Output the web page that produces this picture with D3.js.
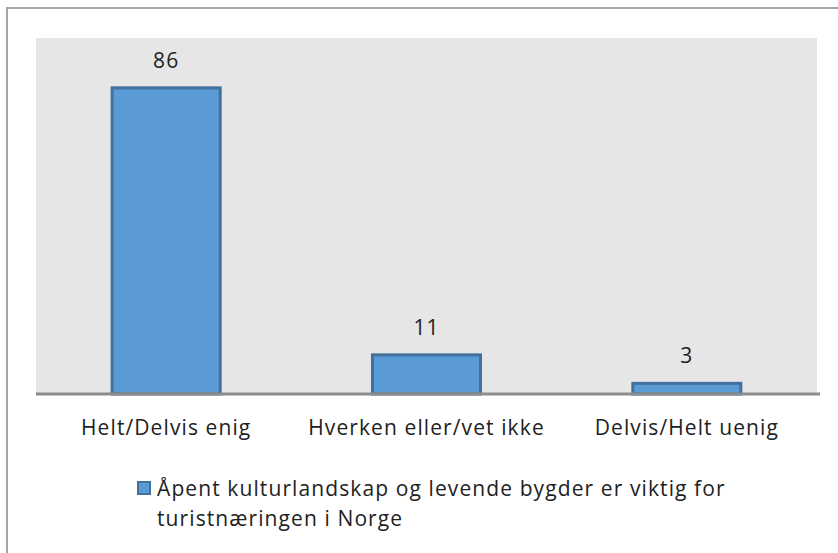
<!DOCTYPE html>
<html>
<head>
<meta charset="utf-8">
<script src="https://cdn.jsdelivr.net/npm/d3@7"></script>
<style>
	body { margin: 0; background: #ffffff; }
	text { font-family: "Open Sans", "DejaVu Sans", sans-serif; fill: #222222; letter-spacing: 1.1px; }
</style>
</head>
<body>
<div id="chart"></div>
<script>
// data
const CATEGORIES = ["Helt/Delvis enig", "Hverken eller/vet ikke", "Delvis/Helt uenig"];
const VALUES = [86, 11, 3];
const SERIES_NAME = ["Åpent kulturlandskap og levende bygder er viktig for", "turistnæringen i Norge"];

// frame
const FRAME_WIDTH = 838;
const FRAME_HEIGHT = 553;
const PLOT = {left: 36, right: 817, top: 38, bottom: 394};

const FRAME = d3.select("#chart")
				.append("svg")
					.attr("width", FRAME_WIDTH)
					.attr("height", FRAME_HEIGHT);

// outer chart border
FRAME.append("rect")
		.attr("x", 7)
		.attr("y", 8)
		.attr("width", FRAME_WIDTH)
		.attr("height", FRAME_HEIGHT)
		.attr("fill", "#ffffff")
		.attr("stroke", "#a6a6a6")
		.attr("stroke-width", 2);

// plot area background
FRAME.append("rect")
		.attr("x", PLOT.left)
		.attr("y", PLOT.top)
		.attr("width", PLOT.right - PLOT.left)
		.attr("height", PLOT.bottom - PLOT.top)
		.attr("fill", "#e6e6e6");

// scales
const X_SCALE = d3.scaleBand()
					.domain(CATEGORIES)
					.range([PLOT.left, PLOT.right])
					.paddingInner(0.585)
					.paddingOuter(0.2925);

const Y_SCALE = d3.scaleLinear()
					.domain([0, 100])
					.range([PLOT.bottom, PLOT.top]);

// bars
FRAME.selectAll(".bar")
		.data(VALUES)
		.enter()
		.append("rect")
			.attr("class", "bar")
			.attr("x", (d, i) => {return X_SCALE(CATEGORIES[i]);})
			.attr("y", (d) => {return Y_SCALE(d);})
			.attr("width", X_SCALE.bandwidth())
			.attr("height", (d) => {return PLOT.bottom - Y_SCALE(d);})
			.attr("fill", "#5b9bd5")
			.attr("stroke", "#41719c")
			.attr("stroke-width", 3);

// value labels
FRAME.selectAll(".value")
		.data(VALUES)
		.enter()
		.append("text")
			.attr("class", "value")
			.attr("x", (d, i) => {return X_SCALE(CATEGORIES[i]) + X_SCALE.bandwidth() / 2;})
			.attr("y", (d) => {return Y_SCALE(d) - 20;})
			.attr("text-anchor", "middle")
			.attr("font-size", "21px")
			.text((d) => {return d;});

// x axis
const X_AXIS = FRAME.append("g")
					.attr("transform", "translate(0," + PLOT.bottom + ")")
					.call(d3.axisBottom(X_SCALE).tickSize(0).tickPadding(26).tickSizeOuter(0));

X_AXIS.select(".domain")
		.attr("stroke", "#8c8c8c")
		.attr("stroke-width", 3)
		.attr("d", "M" + PLOT.left + ",0H" + (PLOT.right + 3));

X_AXIS.selectAll("text")
		.attr("font-size", "21px")
		.attr("font-family", "'Open Sans', sans-serif")
		.attr("fill", "#222222");

// legend
const LEGEND = FRAME.append("g");

LEGEND.append("rect")
		.attr("x", 138)
		.attr("y", 482)
		.attr("width", 12)
		.attr("height", 12)
		.attr("fill", "#5b9bd5")
		.attr("stroke", "#41719c")
		.attr("stroke-width", 2);

LEGEND.selectAll(".legend-line")
		.data(SERIES_NAME)
		.enter()
		.append("text")
			.attr("class", "legend-line")
			.attr("x", 157)
			.attr("y", (d, i) => {return 496 + i * 30;})
			.attr("font-size", "21px")
			.text((d) => {return d;});
</script>
</body>
</html>
